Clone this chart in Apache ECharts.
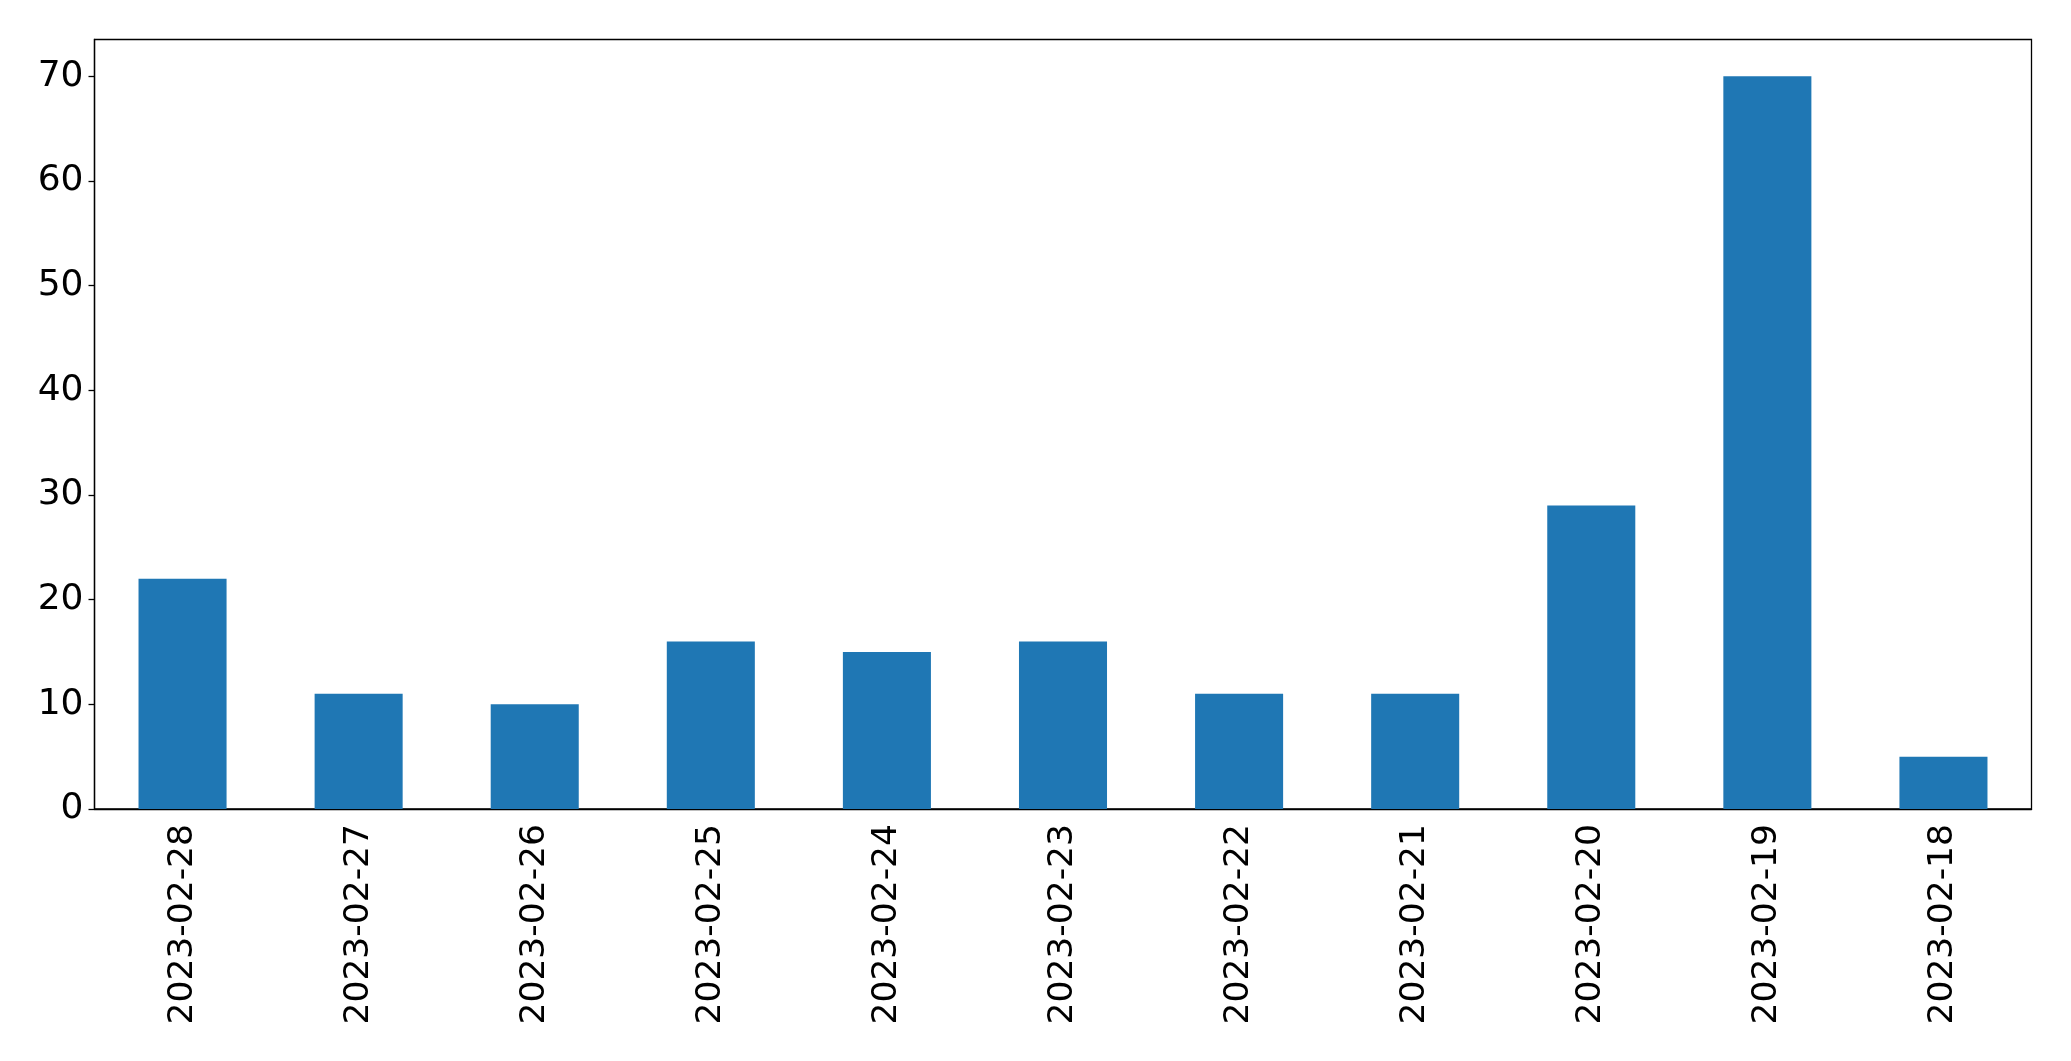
<!DOCTYPE html>
<html><head><meta charset="utf-8">
<script src="https://cdn.jsdelivr.net/npm/echarts@6/dist/echarts.min.js"></script>
<style>html,body{margin:0;padding:0;background:#fff}#c{width:2071px;height:1061px}</style>
</head><body><div id="c"></div>
<script>
const categories = ["2023-02-28","2023-02-27","2023-02-26","2023-02-25","2023-02-24","2023-02-23","2023-02-22","2023-02-21","2023-02-20","2023-02-19","2023-02-18"];
const values = [22, 11, 10, 16, 15, 16, 11, 11, 29, 70, 5];
const yTicks = [0, 10, 20, 30, 40, 50, 60, 70];

const chart = echarts.init(document.getElementById('c'), null, {renderer: 'canvas'});
const font = 'DejaVu Sans';
chart.setOption({
  animation: false,
  backgroundColor: '#ffffff',
  grid: {left: 94.5, right: 39.5, top: 39.5, bottom: 252, show: true, borderColor: '#000', borderWidth: 1.3, backgroundColor: 'transparent'},
  xAxis: {
    type: 'category', data: categories, boundaryGap: true,
    axisLine: {lineStyle: {color: '#000', width: 1.3}},
    axisTick: {alignWithLabel: true, length: 6, lineStyle: {color: '#000', width: 1.3}},
    axisLabel: {rotate: 90, fontFamily: font, fontSize: 34.5, color: '#000', margin: 15}
  },
  yAxis: {
    type: 'value', min: 0, max: 73.5, interval: 10,
    splitLine: {show: false},
    axisLine: {show: true, lineStyle: {color: '#000', width: 1.3}},
    axisTick: {show: true, length: 6, customValues: yTicks, lineStyle: {color: '#000', width: 1.3}},
    axisLabel: {fontFamily: font, fontSize: 36, color: '#000', margin: 11, customValues: yTicks}
  },
  series: [{type: 'bar', data: values, barWidth: '50%', itemStyle: {color: '#1f77b4'}}]
});
</script></body></html>
